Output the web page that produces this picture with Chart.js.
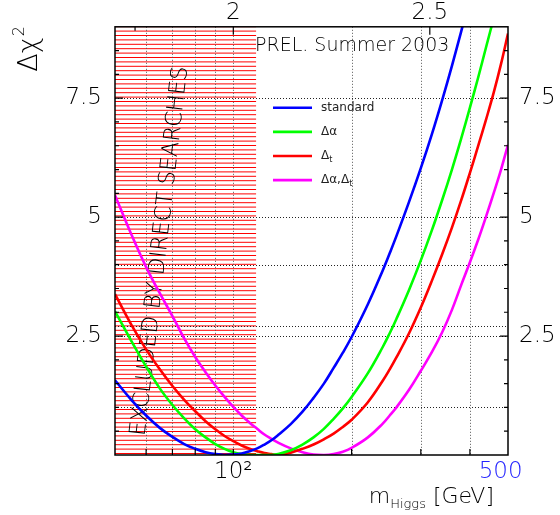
<!DOCTYPE html>
<html>
<head>
<meta charset="utf-8">
<script src="https://cdn.jsdelivr.net/npm/chart.js@4/dist/chart.umd.min.js"></script>
<style>
  html, body { margin: 0; padding: 0; background: #fff; }
  #wrap { width: 560px; height: 515px; }
</style>
</head>
<body>
<div id="wrap"><canvas id="chi2" width="560" height="515"></canvas></div>
<script>
// Higgs mass scan (GeV) and delta chi-square of the fit for each variant
const masses = [50, 55, 60, 65, 70, 75, 80, 85, 90, 95,
                100, 105, 110, 115, 120, 125, 130,
                140, 150, 160, 170, 180, 190, 200,
                220, 240, 250, 260, 280, 300,
                320, 340, 360, 380, 400,
                420, 440, 460, 480, 500];

const chi2Standard = [1.57, 1.16, 0.83, 0.57, 0.38, 0.23, 0.13, 0.06, 0.02, 0.00,
                      0.01, 0.03, 0.08, 0.14, 0.22, 0.31, 0.42,
                      0.65, 0.91, 1.20, 1.50, 1.83, 2.15, 2.48,
                      3.17, 3.88, 4.24, 4.60, 5.32, 6.03,
                      6.74, 7.46, 8.18, 8.90, 9.60,
                      null, null, null, null, null];

const chi2DeltaAlpha = [3.02, 2.40, 1.86, 1.40, 1.05, 0.77, 0.54, 0.37, 0.23, 0.13,
                        0.06, 0.02, 0.00, 0.00, 0.00, 0.00, 0.02,
                        0.10, 0.22, 0.37, 0.55, 0.76, 0.98, 1.22,
                        1.72, 2.27, 2.56, 2.86, 3.47, 4.09,
                        4.72, 5.36, 6.00, 6.65, 7.30,
                        7.94, 8.58, 9.19, 9.80, null];

const chi2DeltaTop = [3.38, 2.74, 2.22, 1.80, 1.45, 1.16, 0.92, 0.71, 0.54, 0.40,
                      0.29, 0.20, 0.13, 0.08, 0.04, 0.02, 0.00,
                      0.05, 0.13, 0.22, 0.33, 0.45, 0.59, 0.74,
                      1.11, 1.56, 1.80, 2.05, 2.56, 3.10,
                      3.66, 4.22, 4.78, 5.35, 5.93,
                      6.50, 7.06, 7.62, 8.22, 8.86];

const chi2Both = [5.46, 4.64, 3.95, 3.40, 2.92, 2.45, 2.06, 1.74, 1.46, 1.22,
                  1.01, 0.83, 0.68, 0.55, 0.43, 0.34, 0.26,
                  0.14, 0.06, 0.01, 0.00, 0.02, 0.07, 0.15,
                  0.37, 0.66, 0.83, 1.00, 1.37, 1.77,
                  2.16, 2.58, 3.05, 3.57, 4.05,
                  4.53, 5.02, 5.51, 6.00, 6.52];

// legend names ("_" marks a subscript)
const seriesNames = ['standard', 'Δα', 'Δ_t', 'Δα,Δ_t'];
const seriesColors = ['#0000ff', '#00ff00', '#ff0000', '#ff00ff'];

// axes
const massMin = 50, massMax = 500;
const chi2Min = 0, chi2Max = 9;
const massLabelTicks = [100, 500];
const massGridLines = [60, 70, 80, 90, 100, 200, 300, 400];
const log10LabelTicks = [2, 2.5];
const log10MinorTicks = [1.75];
const chi2LabelTicks = [2.5, 5, 7.5];
const chi2Step = 0.5;
const chi2Levels = [1, 2.5, 2.71, 4, 5, 7.5];

// direct search exclusion (GeV)
const lepLimit = 114.4;

const FONT = '"DejaVu Sans", "Liberation Sans", sans-serif';
const INK = '#000';
const THIN = 200;

const series = [chi2Standard, chi2DeltaAlpha, chi2DeltaTop, chi2Both];
const toPoints = vals => masses
  .map((m, i) => ({ x: m, y: vals[i] }))
  .filter(p => p.y !== null);

function drawRich(ctx, text, x, y, size, subSize) {
  // draws text where "_c" puts the character c as a subscript
  let cx = x;
  for (let i = 0; i < text.length; i++) {
    const ch = text[i];
    if (ch === '_' && i + 1 < text.length) {
      ctx.font = `${subSize}px ${FONT}`;
      ctx.fillText(text[i + 1], cx, y + size * 0.3);
      cx += ctx.measureText(text[i + 1]).width;
      i++;
    } else {
      ctx.font = `${size}px ${FONT}`;
      ctx.fillText(ch, cx, y);
      cx += ctx.measureText(ch).width;
    }
  }
}

const decor = {
  id: 'decor',
  beforeDatasetsDraw(chart) {
    const { ctx, chartArea: a, scales } = chart;
    const xs = scales.x, ys = scales.y;

    // hatched band below the direct search limit
    const xr = xs.getPixelForValue(lepLimit);
    ctx.save();
    ctx.beginPath();
    ctx.rect(a.left, a.top, xr - a.left, a.bottom - a.top);
    ctx.clip();
    ctx.strokeStyle = '#ff0000';
    ctx.lineWidth = 1;
    for (let yy = a.bottom - 1.5; yy > a.top - 2; yy -= 4.4) {
      ctx.beginPath();
      ctx.moveTo(a.left, yy);
      ctx.lineTo(xr, yy);
      ctx.stroke();
    }
    ctx.restore();

    // dotted grid
    ctx.save();
    ctx.lineWidth = 1;
    ctx.setLineDash([1, 2]);
    ctx.strokeStyle = '#555';
    massGridLines.forEach(m => {
      const px = Math.round(xs.getPixelForValue(m)) + 0.5;
      ctx.beginPath();
      ctx.moveTo(px, a.top);
      ctx.lineTo(px, a.bottom);
      ctx.stroke();
    });
    ctx.strokeStyle = '#222';
    chi2Levels.forEach(v => {
      const py = Math.round(ys.getPixelForValue(v)) + 0.5;
      ctx.beginPath();
      ctx.moveTo(a.left, py);
      ctx.lineTo(a.right, py);
      ctx.stroke();
    });
    ctx.restore();

    // exclusion label
    ctx.save();
    ctx.translate(a.left + 43, (a.top + a.bottom) / 2 + 10);
    ctx.rotate(-83.4 * Math.PI / 180);
    ctx.font = `${THIN} 22.5px ${FONT}`;
    ctx.fillStyle = '#000';
    ctx.textAlign = 'center';
    ctx.textBaseline = 'alphabetic';
    ctx.fillText('EXCLUDED BY DIRECT SEARCHES', 0, 8);
    ctx.restore();
  },
  afterDraw(chart) {
    const { ctx, chartArea: a, scales } = chart;
    const xs = scales.x, ys = scales.y, xt = scales.xTop;

    ctx.save();
    // frame
    ctx.strokeStyle = '#000';
    ctx.lineWidth = 1.5;
    ctx.strokeRect(a.left, a.top, a.right - a.left, a.bottom - a.top);

    // inward tick marks
    ctx.lineWidth = 1.2;
    for (let v = chi2Step; v < chi2Max; v += chi2Step) {
      const major = chi2LabelTicks.includes(v);
      const len = major ? 8 : 4;
      const py = ys.getPixelForValue(v);
      ctx.beginPath();
      ctx.moveTo(a.left, py); ctx.lineTo(a.left + len, py);
      ctx.moveTo(a.right, py); ctx.lineTo(a.right - len, py);
      ctx.stroke();
    }
    massGridLines.forEach(m => {
      const px = xs.getPixelForValue(m);
      ctx.beginPath();
      ctx.moveTo(px, a.bottom); ctx.lineTo(px, a.bottom - 6);
      ctx.stroke();
    });
    log10LabelTicks.concat(log10MinorTicks).forEach(v => {
      const px = xt.getPixelForValue(v);
      const len = log10LabelTicks.includes(v) ? 8 : 4;
      ctx.beginPath();
      ctx.moveTo(px, a.top); ctx.lineTo(px, a.top + len);
      ctx.stroke();
    });

    // legend
    const lx = a.left + 158, ly = a.top + 81, step = 24.1;
    ctx.textBaseline = 'middle';
    ctx.textAlign = 'left';
    seriesNames.forEach((name, i) => {
      const yy = ly + i * step;
      ctx.strokeStyle = seriesColors[i];
      ctx.lineWidth = 2.6;
      ctx.beginPath();
      ctx.moveTo(lx, yy); ctx.lineTo(lx + 39, yy);
      ctx.stroke();
      ctx.fillStyle = '#222';
      drawRich(ctx, name, lx + 48, yy, 12, 8);
    });

    // preliminary note
    ctx.textBaseline = 'alphabetic';
    ctx.fillStyle = INK;
    ctx.font = `${THIN} 19px ${FONT}`;
    ctx.fillText('PREL. Summer 2003', a.left + 140, a.top + 24);

    // x axis title: m_Higgs [GeV]
    ctx.font = `${THIN} 22px ${FONT}`;
    const wM = ctx.measureText('m').width;
    const wU = ctx.measureText(' [GeV]').width;
    ctx.font = `${THIN} 13px ${FONT}`;
    const wH = ctx.measureText('Higgs').width;
    const xEnd = a.right - 14, base = a.bottom + 48;
    const tx = xEnd - (wM + wH + wU);
    ctx.font = `${THIN} 22px ${FONT}`;
    ctx.fillText('m', tx, base);
    ctx.font = `${THIN} 13px ${FONT}`;
    ctx.fillText('Higgs', tx + wM, base + 5);
    ctx.font = `${THIN} 22px ${FONT}`;
    ctx.fillText(' [GeV]', tx + wM + wH, base);

    // y axis title: delta chi-square
    ctx.translate(37, a.top + 45);
    ctx.rotate(-Math.PI / 2);
    ctx.font = `${THIN} 27px ${FONT}`;
    ctx.fillText('Δχ', 0, 0);
    const wD = ctx.measureText('Δχ').width;
    ctx.font = `${THIN} 16px ${FONT}`;
    ctx.fillText('2', wD + 1, -13);
    ctx.restore();
  }
};

const tickFont = { family: FONT, size: 23, weight: THIN };
const noGrid = { display: false, drawTicks: false };

new Chart(document.getElementById('chi2'), {
  type: 'line',
  data: {
    datasets: series.map((vals, i) => ({
      label: seriesNames[i].replace('_', ''),
      data: toPoints(vals),
      borderColor: seriesColors[i],
      borderWidth: 2.6,
      pointRadius: 0,
      fill: false,
      tension: 0.4,
      clip: 0
    }))
  },
  options: {
    responsive: false,
    animation: false,
    events: [],
    layout: { padding: 0 },
    plugins: { legend: { display: false }, tooltip: { enabled: false } },
    scales: {
      x: {
        type: 'logarithmic', position: 'bottom', min: massMin, max: massMax,
        grid: noGrid, border: { display: false },
        afterBuildTicks: s => { s.ticks = massLabelTicks.map(v => ({ value: v })); },
        afterFit: s => { s.height = 60; },
        ticks: {
          autoSkip: false, maxRotation: 0, padding: 3, font: tickFont,
          color: c => (c.tick && c.tick.value === 500) ? '#2222ff' : INK,
          // trailing spaces pull the end label back under the frame corner
          callback: v => (v === 100 ? '10²' : '500  ')
        }
      },
      xTop: {
        type: 'linear', position: 'top',
        min: Math.log10(massMin), max: Math.log10(massMax),
        grid: noGrid, border: { display: false },
        afterBuildTicks: s => { s.ticks = log10LabelTicks.map(v => ({ value: v })); },
        afterFit: s => { s.height = 25; },
        ticks: { autoSkip: false, maxRotation: 0, padding: 0, font: tickFont, color: INK,
                 callback: v => String(v) }
      },
      y: {
        type: 'linear', position: 'left', min: chi2Min, max: chi2Max,
        grid: noGrid, border: { display: false },
        afterBuildTicks: s => { s.ticks = chi2LabelTicks.map(v => ({ value: v })); },
        afterFit: s => { s.width = 115; },
        ticks: { padding: 13, font: tickFont, color: INK, callback: v => String(v) }
      },
      yRight: {
        type: 'linear', position: 'right', min: chi2Min, max: chi2Max,
        grid: noGrid, border: { display: false },
        afterBuildTicks: s => { s.ticks = chi2LabelTicks.map(v => ({ value: v })); },
        afterFit: s => { s.width = 52; },
        ticks: { padding: 11, font: tickFont, color: INK, callback: v => String(v) }
      }
    }
  },
  plugins: [decor]
});
</script>
</body>
</html>
